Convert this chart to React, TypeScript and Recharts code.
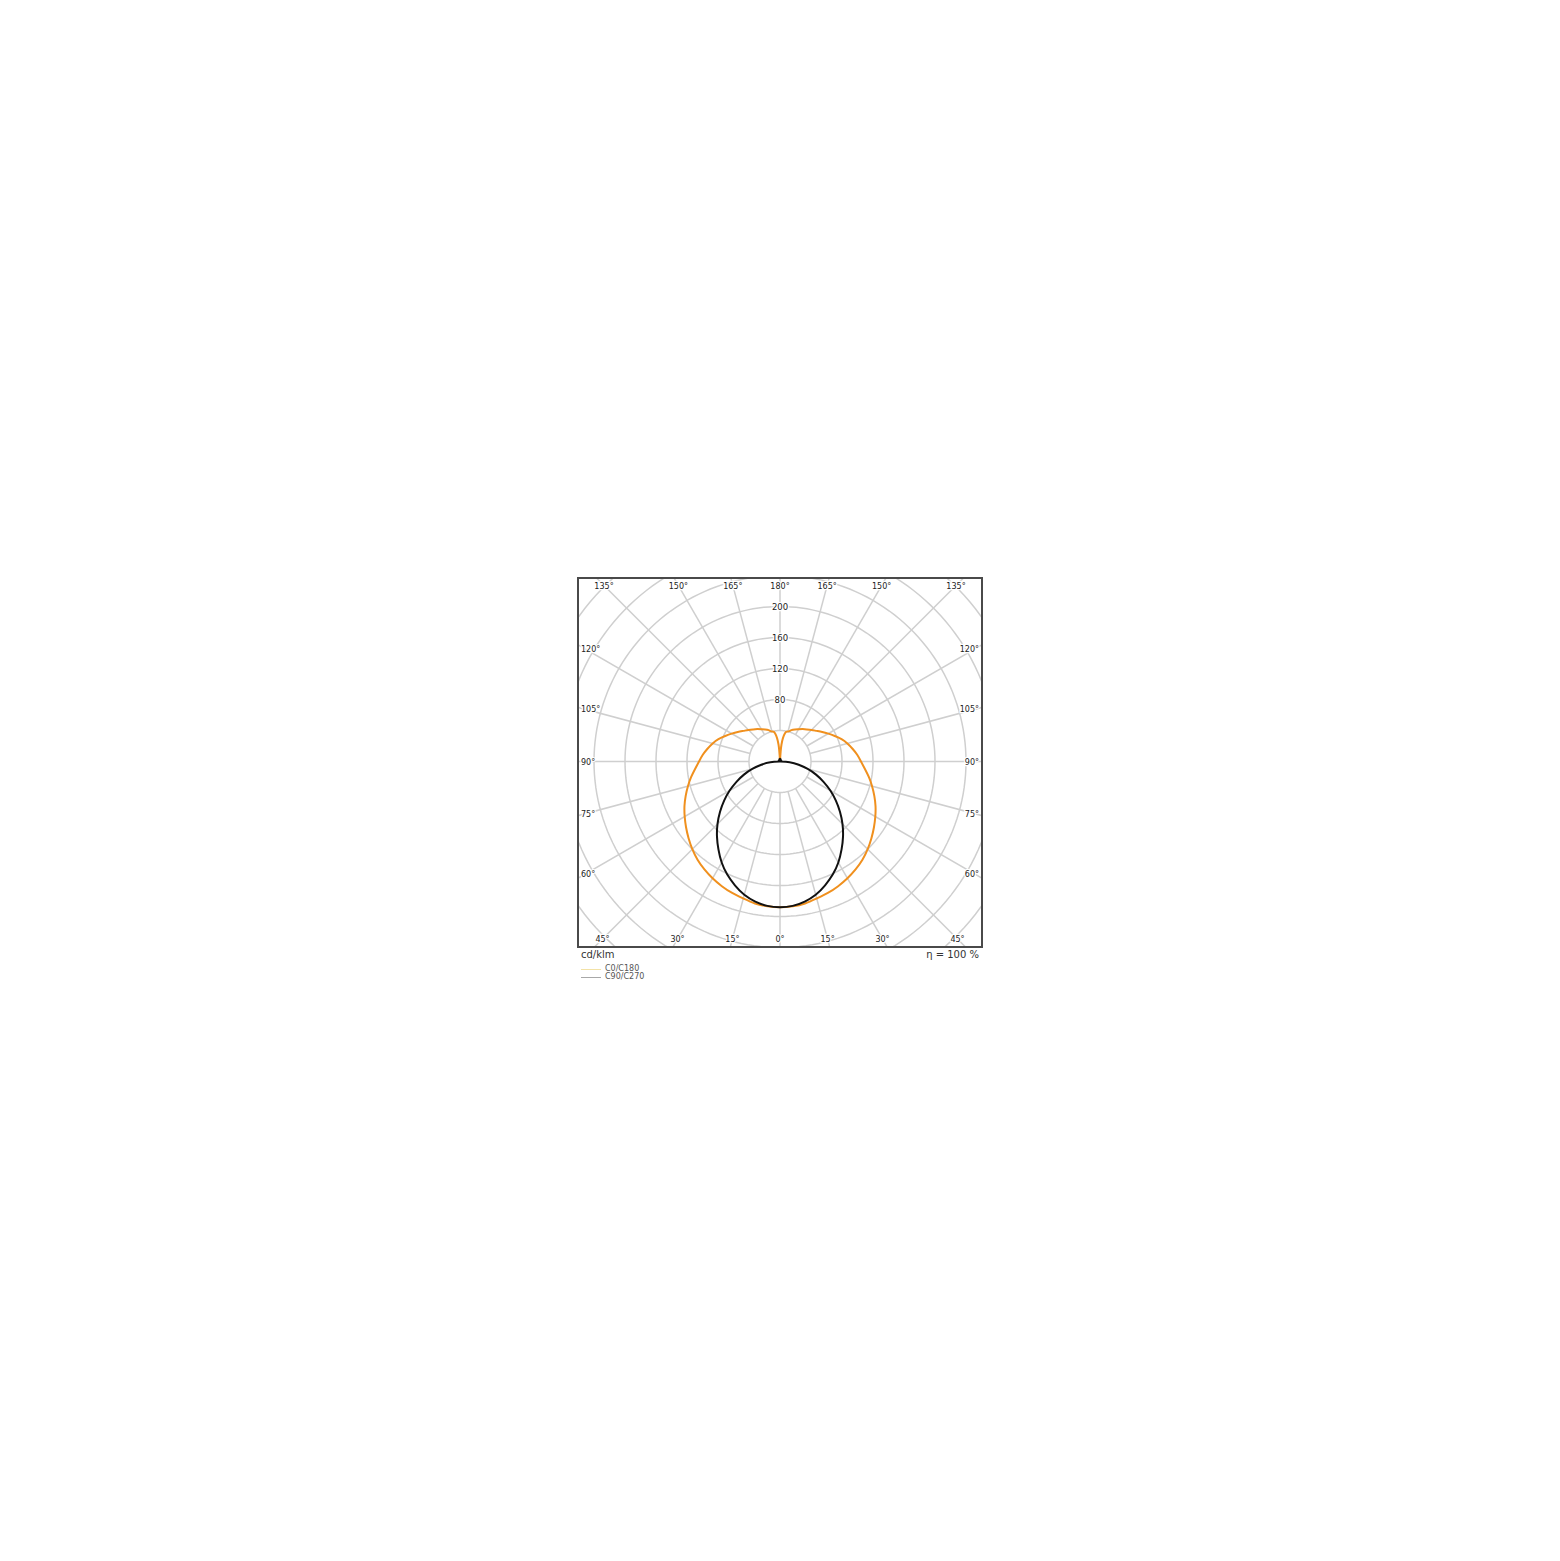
import { Scatter, ScatterChart, XAxis, YAxis } from 'recharts'

// luminous intensity, cd/klm, by gamma angle (0 = straight down)
const GAMMA = [0, 5, 10, 15, 20, 25, 30, 35, 40, 45, 50, 55, 60, 65, 70, 75, 80, 85, 90,
  95, 100, 105, 110, 115, 120, 125, 130, 135, 140, 145, 150, 155, 160, 165, 170, 175, 180]
const C0_C180 = [188, 187.5, 186, 183, 180.5, 177.5, 174, 170, 165.5, 160, 154, 148, 142, 136, 129.5, 123, 116.5, 110, 104.5,
  100, 95, 90, 84.5, 78, 72, 66.5, 61.5, 57.5, 54, 51, 48, 45.5, 43, 40, 37, 22, 0]
const C90_C270 = [188, 187, 183.5, 178, 170, 161, 150.5, 138.5, 126.5, 114, 101, 88, 75, 62, 49.5, 37, 24.5, 12.5, 0,
  1, 1.5, 2, 2, 2, 2, 2, 2, 2, 2, 2, 2, 2.5, 2.5, 3, 3, 3.5, 4]

const RINGS = [40, 80, 120, 160, 200, 240, 280, 320, 360]
const RING_LABELS = [80, 120, 160, 200]
const SPOKES = [0, 15, 30, 45, 60, 75, 90, 105, 120, 135, 150, 165, 180, 195, 210, 225, 240, 255, 270, 285, 300, 315, 330, 345]
const TOP_LABELS = [135, 150, 165, 180]
const BOTTOM_LABELS = [45, 30, 15, 0]
const SIDE_LABELS = [120, 105, 90, 75, 60]

const ORANGE = '#f0901e'
const GRID = '#cfcfcf'
const W = 402
const H = 367
const CX = 201
const CY = 182.5
const PX = 0.775 // px per cd/klm
const X_DOMAIN = [-CX / PX, (W - CX) / PX]
const Y_DOMAIN = [-(H - CY) / PX, CY / PX]

const rad = (d: number) => (d * Math.PI) / 180
const polar = (v: number, d: number) => ({ x: -v * Math.sin(rad(d)), y: -v * Math.cos(rad(d)) })

// loop starts and ends at the 180° cusp: left half downwards, right half back up
function curve(values: number[]) {
  const left = GAMMA.map((g, i) => polar(values[i], g)).reverse()
  const right = GAMMA.map((g, i) => polar(values[i], 360 - g)).slice(1)
  return [...left, ...right]
}

const ringPts = (r: number) => Array.from({ length: 181 }, (_, i) => polar(r, i * 2))

// label anchors on the inside of the frame
const yTop = (CY - 6.5) / PX
const yBot = -(H - CY - 7) / PX
const xSide = (CX - 2) / PX
const edgeLabels = [
  ...TOP_LABELS.flatMap((g) => {
    const t = Math.tan(rad(180 - g))
    return g === 180 ? [{ x: 0, y: yTop, text: `${g}°`, anchor: 'middle' }]
      : [{ x: -yTop * t, y: yTop, text: `${g}°`, anchor: 'middle' }, { x: yTop * t, y: yTop, text: `${g}°`, anchor: 'middle' }]
  }),
  ...BOTTOM_LABELS.flatMap((g) => {
    const t = Math.tan(rad(g))
    return g === 0 ? [{ x: 0, y: yBot, text: `${g}°`, anchor: 'middle' }]
      : [{ x: yBot * t, y: yBot, text: `${g}°`, anchor: 'middle' }, { x: -yBot * t, y: yBot, text: `${g}°`, anchor: 'middle' }]
  }),
  ...SIDE_LABELS.flatMap((g) => {
    const y = -(CX - 6) / PX / Math.tan(rad(g))
    return [{ x: -xSide, y, text: `${g}°`, anchor: 'start' }, { x: xSide, y, text: `${g}°`, anchor: 'end' }]
  }),
]
const ringLabelPts = RING_LABELS.map((v) => ({ x: 0, y: v, text: String(v), anchor: 'middle' }))

const noDot = () => <g />
const textShape = (size: number) => (p: any) => (
  <text x={p.cx} y={p.cy + 0.5} textAnchor={p.payload.anchor} dominantBaseline="central" fontSize={size}
        fill="#222" stroke="#fff" strokeWidth={2.5} paintOrder="stroke" fontFamily="DejaVu Sans">
    {p.payload.text}
  </text>
)

export default function App() {
  return (
    <div style={{ position: 'relative', width: 1544, height: 1545, fontFamily: 'DejaVu Sans', color: '#333' }}>
      <div style={{
        position: 'absolute', left: 569, top: 569, width: W + 4, height: H + 4,
        border: '2px solid #4a4a4a', boxSizing: 'border-box', overflow: 'hidden', background: '#fff',
      }}>
        <ScatterChart width={W} height={H} margin={{ top: 0, right: 0, bottom: 0, left: 0 }}>
          <XAxis type="number" dataKey="x" domain={X_DOMAIN} allowDataOverflow hide />
          <YAxis type="number" dataKey="y" domain={Y_DOMAIN} allowDataOverflow hide />
          {RINGS.map((r) => (
            <Scatter key={`r${r}`} data={ringPts(r)} line={{ stroke: GRID, strokeWidth: 1.5 }}
                     shape={noDot} isAnimationActive={false} />
          ))}
          {SPOKES.map((d) => (
            <Scatter key={`s${d}`} data={[polar(40, d), polar(420, d)]} line={{ stroke: GRID, strokeWidth: 1.5 }}
                     shape={noDot} isAnimationActive={false} />
          ))}
          <Scatter name="C0/C180" data={curve(C0_C180)} line={{ stroke: ORANGE, strokeWidth: 2 }}
                   lineJointType="natural" shape={noDot} isAnimationActive={false} />
          <Scatter name="C90/C270" data={curve(C90_C270)} line={{ stroke: '#111', strokeWidth: 2 }}
                   lineJointType="natural" shape={noDot} isAnimationActive={false} />
          <Scatter data={ringLabelPts} shape={textShape(8.5)} isAnimationActive={false} />
          <Scatter data={edgeLabels} shape={textShape(8)} isAnimationActive={false} />
        </ScatterChart>
      </div>
      <div style={{ position: 'absolute', left: 573, top: 941, fontSize: 10, lineHeight: '12px' }}>cd/klm</div>
      <div style={{ position: 'absolute', left: 875, width: 96, top: 941, fontSize: 10, lineHeight: '12px', textAlign: 'right' }}>
        η = 100 %
      </div>
      {[{ label: 'C0/C180', color: '#f3e2a6' }, { label: 'C90/C270', color: '#a8a8a8' }].map((l, i) => (
        <div key={l.label} style={{ position: 'absolute', left: 573, top: 957 + i * 8, height: 8, display: 'flex', alignItems: 'center', fontSize: 8, color: '#555' }}>
          <span style={{ display: 'inline-block', width: 20, height: 1, background: l.color, marginRight: 4 }} />
          <span style={{ lineHeight: '8px' }}>{l.label}</span>
        </div>
      ))}
    </div>
  )
}
